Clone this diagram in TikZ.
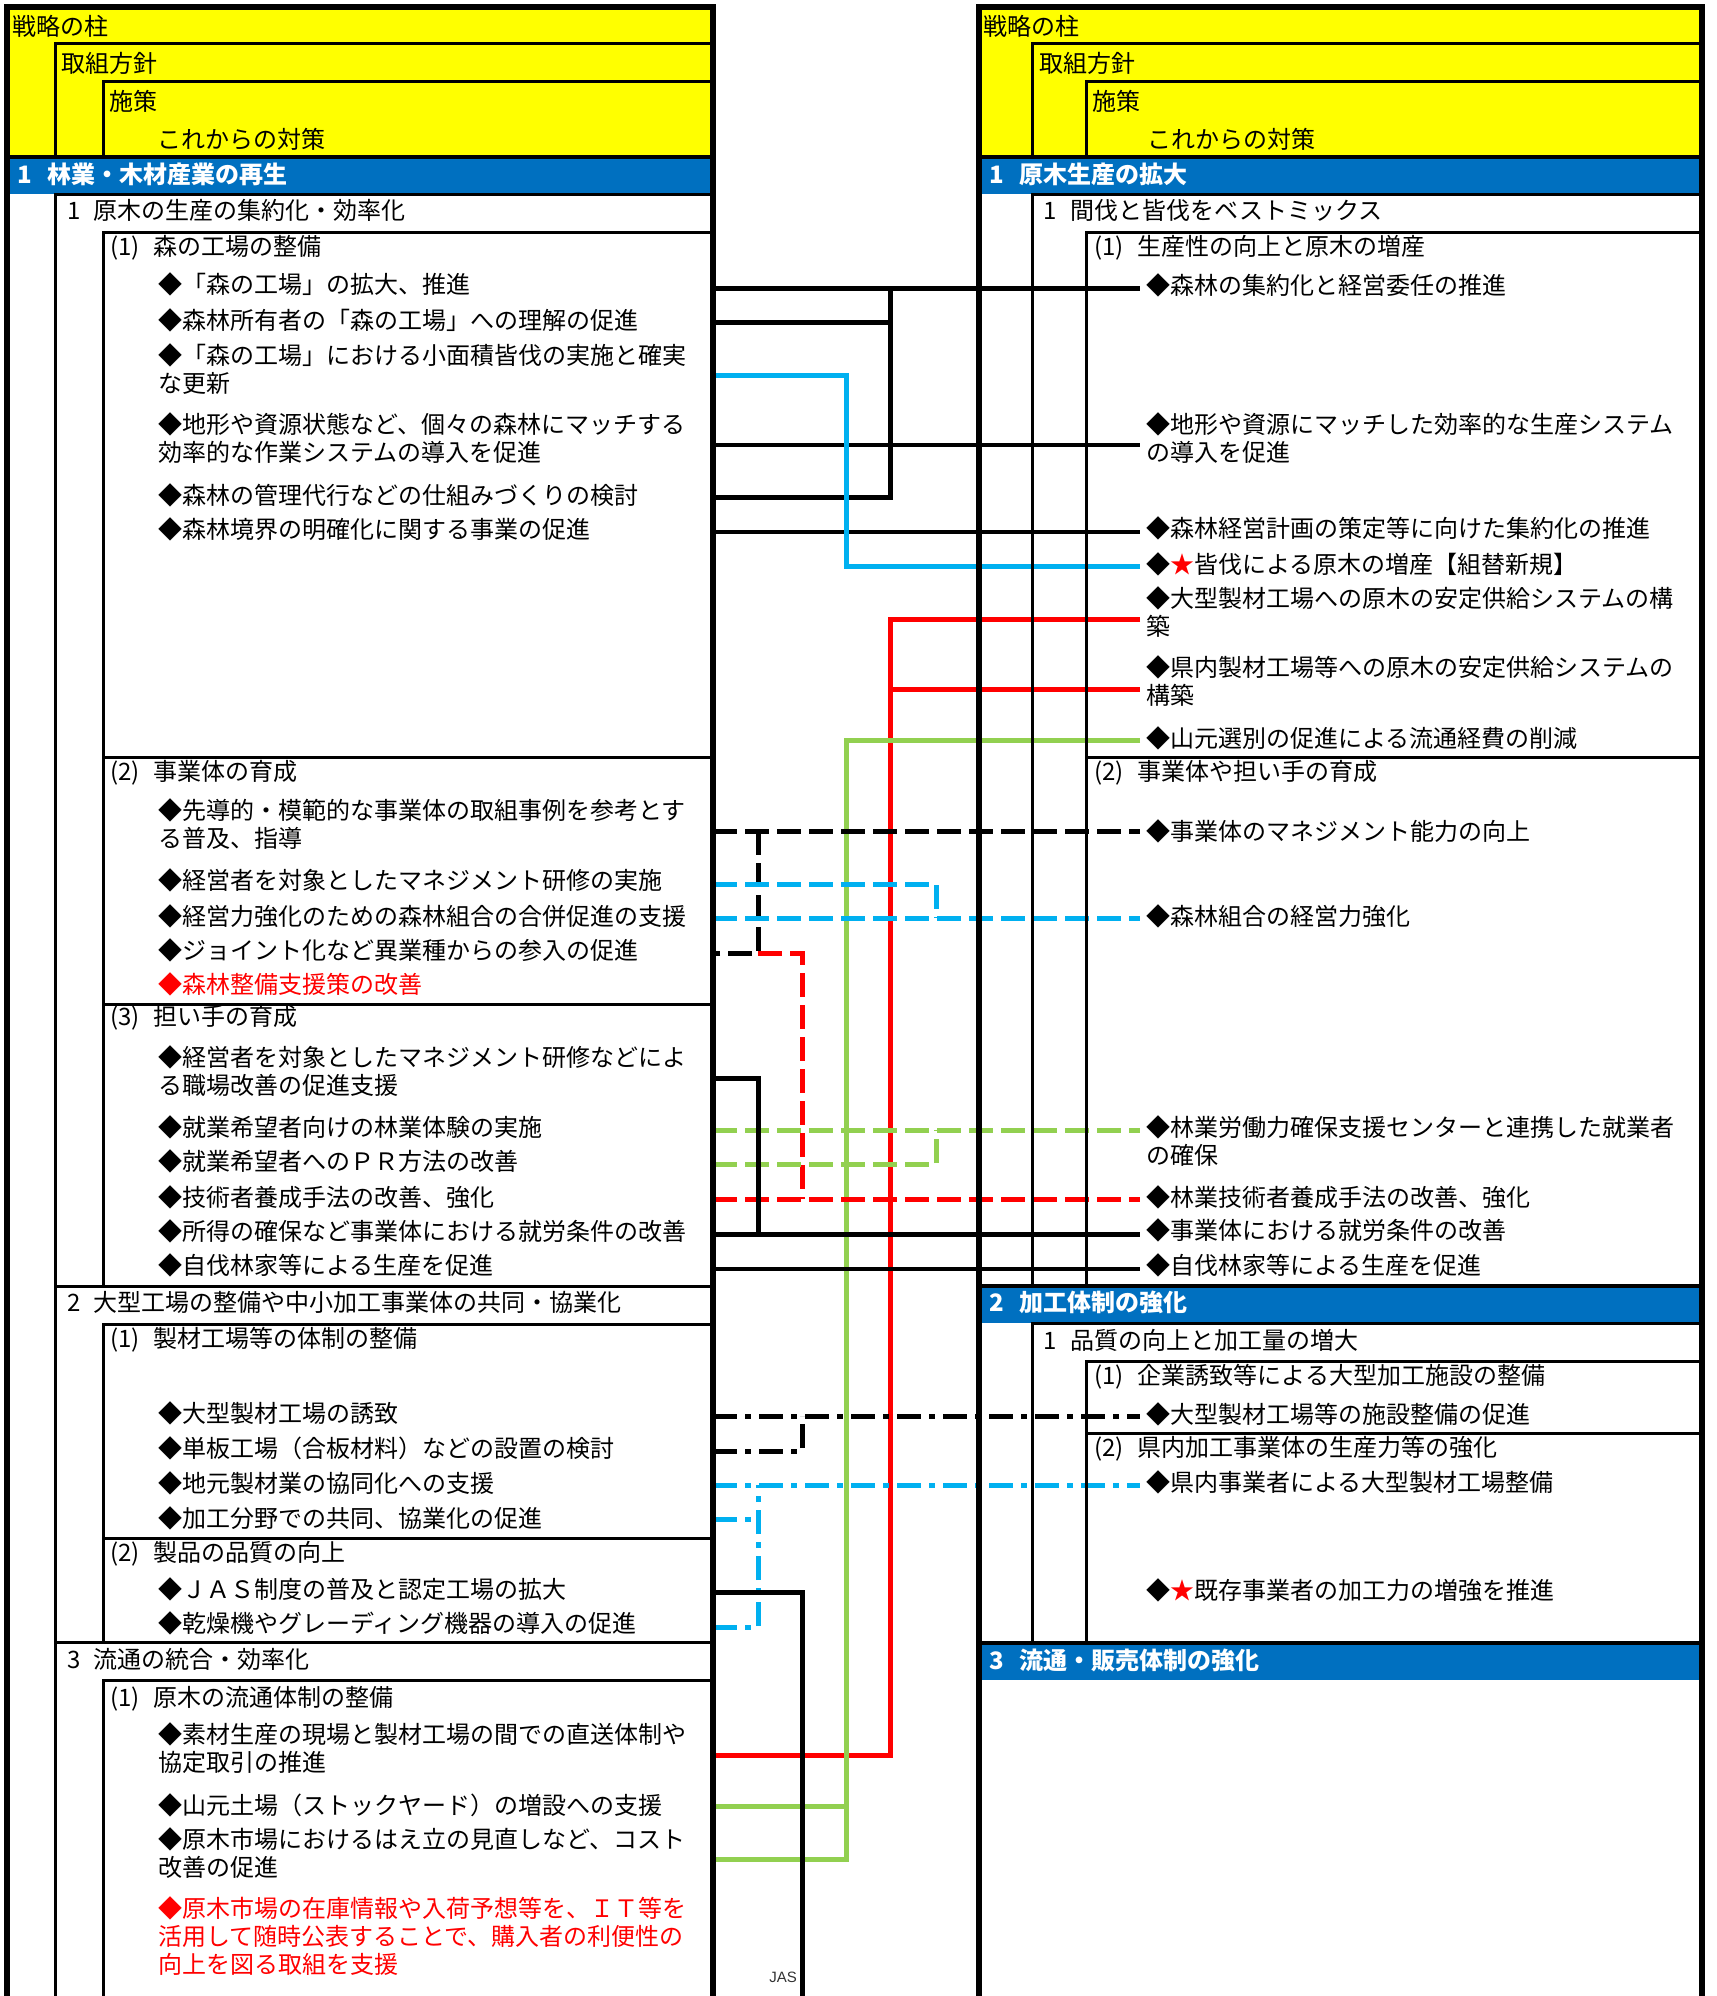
\documentclass[tikz,border=0pt]{standalone}
\usepackage{fontspec}
\setmainfont{Noto Sans CJK JP}
\newfontfamily\jasfont{Liberation Sans}
\definecolor{hdyellow}{RGB}{255,255,0}
\definecolor{hdblue}{RGB}{0,112,192}
\definecolor{lkcyan}{RGB}{0,176,240}
\definecolor{lkgreen}{RGB}{146,208,80}
\definecolor{lkred}{RGB}{255,0,0}
\begin{document}
\begin{tikzpicture}[x=1pt,y=-1pt]

\tikzstyle{it} = [anchor=west, inner sep=0pt, align=left, font=\fontsize{24}{28}\selectfont]
\tikzstyle{rt} = [it, inner xsep=6pt]
\tikzstyle{bt} = [it, text=white, font=\fontsize{24}{28}\selectfont\bfseries]
\tikzstyle{fr} = [line width=5.5pt, line join=miter]
\tikzstyle{hl} = [line width=4.5pt]
\tikzstyle{bx} = [line width=3pt, line join=miter]
\tikzstyle{ln} = [line width=5pt, line join=miter]
\tikzstyle{tn} = [line width=3.3pt]
\tikzstyle{dsh} = [ln, dash pattern=on 24pt off 8pt]
\tikzstyle{dd} = [ln, dash pattern=on 24pt off 8pt on 6pt off 8pt]

\useasboundingbox (0,0) rectangle (1716,1996);

\fill[hdyellow] (7,7) rectangle (713,157);
\fill[hdyellow] (979,7) rectangle (1702,157);
\fill[hdblue] (7,157) rectangle (713,194);
\fill[hdblue] (979,157) rectangle (1702,194);
\fill[hdblue] (979,1286) rectangle (1702,1323);
\fill[hdblue] (979,1643) rectangle (1702,1680);

% left side
\node[it] (lh1) at (12,26) {戦略の柱};
\node[it] (lh2) at (61,63) {取組方針};
\node[it] (lh3) at (109,101) {施策};
\node[it] (lh4) at (157,139) {これからの対策};
\node[bt] (ls1) at (17,174) {1\hspace{16pt}林業・木材産業の再生};
\node[it] (lp1) at (67,210) {1\hspace{13pt}原木の生産の集約化・効率化};
\node[it] (lm1) at (110,248) {(1)\hspace{14pt}森の工場の整備};
\node[it] (lA1) at (158,284) {◆「森の工場」の拡大、推進};
\node[it] (lA2) at (158,320) {◆森林所有者の「森の工場」への理解の促進};
\node[it] (lA3) at (158,369) {◆「森の工場」における小面積皆伐の実施と確実\\な更新};
\node[it] (lA4) at (158,438) {◆地形や資源状態など、個々の森林にマッチする\\効率的な作業システムの導入を促進};
\node[it] (lA5) at (158,495) {◆森林の管理代行などの仕組みづくりの検討};
\node[it] (lA6) at (158,529) {◆森林境界の明確化に関する事業の促進};
\node[it] (lm2) at (110,773) {(2)\hspace{14pt}事業体の育成};
\node[it] (lB1) at (158,824) {◆先導的・模範的な事業体の取組事例を参考とす\\る普及、指導};
\node[it] (lB2) at (158,880) {◆経営者を対象としたマネジメント研修の実施};
\node[it] (lB3) at (158,916) {◆経営力強化のための森林組合の合併促進の支援};
\node[it] (lB4) at (158,950) {◆ジョイント化など異業種からの参入の促進};
\node[it, text=lkred] (lB5) at (158,984) {◆森林整備支援策の改善};
\node[it] (lm3) at (110,1018) {(3)\hspace{14pt}担い手の育成};
\node[it] (lC1) at (158,1071) {◆経営者を対象としたマネジメント研修などによ\\る職場改善の促進支援};
\node[it] (lC2) at (158,1127) {◆就業希望者向けの林業体験の実施};
\node[it] (lC3) at (158,1161) {◆就業希望者へのＰＲ方法の改善};
\node[it] (lC4) at (158,1197) {◆技術者養成手法の改善、強化};
\node[it] (lC5) at (158,1231) {◆所得の確保など事業体における就労条件の改善};
\node[it] (lC6) at (158,1265) {◆自伐林家等による生産を促進};
\node[it] (lp2) at (67,1302) {2\hspace{13pt}大型工場の整備や中小加工事業体の共同・協業化};
\node[it] (lm4) at (110,1340) {(1)\hspace{14pt}製材工場等の体制の整備};
\node[it] (lD1) at (158,1413) {◆大型製材工場の誘致};
\node[it] (lD2) at (158,1448) {◆単板工場（合板材料）などの設置の検討};
\node[it] (lD3) at (158,1483) {◆地元製材業の協同化への支援};
\node[it] (lD4) at (158,1518) {◆加工分野での共同、協業化の促進};
\node[it] (lm5) at (110,1554) {(2)\hspace{14pt}製品の品質の向上};
\node[it] (lE1) at (158,1589) {◆ＪＡＳ制度の普及と認定工場の拡大};
\node[it] (lE2) at (158,1623) {◆乾燥機やグレーディング機器の導入の促進};
\node[it] (lp3) at (67,1659) {3\hspace{13pt}流通の統合・効率化};
\node[it] (lm6) at (110,1699) {(1)\hspace{14pt}原木の流通体制の整備};
\node[it] (lF1) at (158,1748) {◆素材生産の現場と製材工場の間での直送体制や\\協定取引の推進};
\node[it] (lF2) at (158,1805) {◆山元土場（ストックヤード）の増設への支援};
\node[it] (lF3) at (158,1853) {◆原木市場におけるはえ立の見直しなど、コスト\\改善の促進};
\node[it, text=lkred] (lF4) at (158,1936) {◆原木市場の在庫情報や入荷予想等を、ＩＴ等を\\活用して随時公表することで、購入者の利便性の\\向上を図る取組を支援};

% right side
\node[it] (rh1) at (983,26) {戦略の柱};
\node[it] (rh2) at (1039,63) {取組方針};
\node[it] (rh3) at (1092,101) {施策};
\node[it] (rh4) at (1147,139) {これからの対策};
\node[bt] (rs1) at (989,174) {1\hspace{16pt}原木生産の拡大};
\node[it] (rp1) at (1043,210) {1\hspace{14pt}間伐と皆伐をベストミックス};
\node[it] (rm1) at (1094,248) {(1)\hspace{14pt}生産性の向上と原木の増産};
\node[rt] (rA1) at (1140,285) {◆森林の集約化と経営委任の推進};
\node[rt] (rA2) at (1140,438) {◆地形や資源にマッチした効率的な生産システム\\の導入を促進};
\node[rt] (rA3) at (1140,528) {◆森林経営計画の策定等に向けた集約化の推進};
\node[rt] (rA4) at (1140,564) {◆{\color{lkred}★}皆伐による原木の増産【組替新規】};
\node[rt] (rA5) at (1140,612) {◆大型製材工場への原木の安定供給システムの構\\築};
\node[rt] (rA6) at (1140,681) {◆県内製材工場等への原木の安定供給システムの\\構築};
\node[rt] (rA7) at (1140,738) {◆山元選別の促進による流通経費の削減};
\node[it] (rm2) at (1094,773) {(2)\hspace{14pt}事業体や担い手の育成};
\node[rt] (rB1) at (1140,831) {◆事業体のマネジメント能力の向上};
\node[rt] (rB2) at (1140,916) {◆森林組合の経営力強化};
\node[rt] (rB3) at (1140,1141) {◆林業労働力確保支援センターと連携した就業者\\の確保};
\node[rt] (rB4) at (1140,1197) {◆林業技術者養成手法の改善、強化};
\node[rt] (rB5) at (1140,1230) {◆事業体における就労条件の改善};
\node[rt] (rB6) at (1140,1265) {◆自伐林家等による生産を促進};
\node[bt] (rs2) at (989,1302) {2\hspace{16pt}加工体制の強化};
\node[it] (rp2) at (1043,1340) {1\hspace{14pt}品質の向上と加工量の増大};
\node[it] (rm3) at (1094,1377) {(1)\hspace{14pt}企業誘致等による大型加工施設の整備};
\node[rt] (rC1) at (1140,1414) {◆大型製材工場等の施設整備の促進};
\node[it] (rm4) at (1094,1449) {(2)\hspace{14pt}県内加工事業体の生産力等の強化};
\node[rt] (rD1) at (1140,1482) {◆県内事業者による大型製材工場整備};
\node[rt] (rD2) at (1140,1590) {◆{\color{lkred}★}既存事業者の加工力の増強を推進};
\node[bt] (rs3) at (989,1660) {3\hspace{16pt}流通・販売体制の強化};

% links
\coordinate (pA1) at (713,288);
\coordinate (pA2) at (713,322);
\coordinate (pA3) at (713,375);
\coordinate (pA4) at (713,445);
\coordinate (pA5) at (713,497);
\coordinate (pA6) at (713,532);
\coordinate (kA1) at (890,288);
\coordinate (kA2) at (846,566);
\coordinate (kA3) at (890,619);
\coordinate (kA4) at (890,689);
\coordinate (kA5) at (846,740);
\coordinate (pB1) at (713,831);
\coordinate (pB2) at (713,884);
\coordinate (pB3) at (713,918);
\coordinate (pB4) at (713,953);
\coordinate (kB1) at (758,831);
\coordinate (kB2) at (758,953);
\coordinate (kB3) at (936,918);
\coordinate (pC1) at (713,1078);
\coordinate (pC2) at (713,1130);
\coordinate (pC3) at (713,1164);
\coordinate (pC4) at (713,1199);
\coordinate (pC5) at (713,1234);
\coordinate (pC6) at (713,1269);
\coordinate (kC1) at (936,1130);
\coordinate (kC2) at (802,1199);
\coordinate (kC3) at (758,1234);
\coordinate (pD1) at (713,1416);
\coordinate (pD2) at (713,1451);
\coordinate (pD3) at (713,1485);
\coordinate (pD4) at (713,1519);
\coordinate (kD1) at (802,1416);
\coordinate (kD2) at (758,1485);
\coordinate (pE1) at (713,1592);
\coordinate (pE2) at (713,1627);
\coordinate (kE1) at (802,1996);
\coordinate (pF1) at (713,1755);
\coordinate (pF2) at (713,1806);
\coordinate (pF3) at (713,1859);

\draw[ln] (pA1) -- (pA1 -| rA1.west);
\draw[ln] (pA2) -- (pA2 -| kA1);
\draw[ln] (pA5) -| (kA1);
\draw[tn] (pA4) -- (pA4 -| rA2.west);
\draw[tn] (pA6) -- (pA6 -| rA3.west);
\draw[ln, lkcyan] (pA3) -| (kA2) -- (kA2 -| rA4.west);
\draw[ln, lkred] (kA3 -| rA5.west) -- (kA3) |- (pF1);
\draw[ln, lkred] (kA4) -- (kA4 -| rA6.west);
\draw[ln, lkgreen] (kA5 -| rA7.west) -- (kA5) |- (pF3);
\draw[ln, lkgreen] (pF2) -- (pF2 -| kA5);

\draw[dsh] (pB1) -- (pB1 -| rB1.west);
\draw[dsh] (kB1) |- (pB4);
\draw[dsh, lkred] (kB2) -| (kC2);
\draw[dsh, lkred] (pC4) -- (pC4 -| rB4.west);
\draw[dsh, lkcyan] (pB2) -| (kB3);
\draw[dsh, lkcyan] (pB3) -- (pB3 -| rB2.west);
\draw[dsh, lkgreen] (pC2) -- (pC2 -| rB3.west);
\draw[dsh, lkgreen] (pC3) -| (kC1);
\draw[ln] (pC1) -| (kC3);
\draw[ln] (pC5) -- (pC5 -| rB5.west);
\draw[tn] (pC6) -- (pC6 -| rB6.west);

\draw[dd] (pD1) -- (pD1 -| rC1.west);
\draw[dd] (pD2) -| (kD1);
\draw[dd, lkcyan] (pD3) -- (pD3 -| rD1.west);
\draw[dd, lkcyan] (pE2) -| (kD2);
\draw[dd, lkcyan] (pD4) -- (pD4 -| kD2);
\draw[ln] (pE1) -| (kE1);
\node[anchor=east, inner sep=0pt, text=black!80, font=\jasfont\fontsize{15}{15}\selectfont] (jas) at (797,1977) {JAS};

% frames
\draw[fr] (7,1996) -- (7,7) -- (713,7) -- (713,1996);
\draw[bx] (55,157) -- (55,44) -- (713,44);
\draw[bx] (103,157) -- (103,82) -- (713,82);
\draw[hl] (7,157) -- (713,157);
\draw[bx] (713,195) -- (55,195) -- (55,1996);
\draw[bx] (713,232) -- (103,232) -- (103,1286);
\draw[bx] (103,757) -- (713,757);
\draw[bx] (103,1004) -- (713,1004);
\draw[bx] (55,1286) -- (713,1286);
\draw[bx] (713,1324) -- (103,1324) -- (103,1642);
\draw[bx] (103,1538) -- (713,1538);
\draw[bx] (55,1642) -- (713,1642);
\draw[bx] (713,1680) -- (103,1680) -- (103,1996);

\draw[fr] (979,1996) -- (979,7) -- (1702,7) -- (1702,1996);
\draw[bx] (1032,157) -- (1032,44) -- (1702,44);
\draw[bx] (1086,157) -- (1086,82) -- (1702,82);
\draw[hl] (979,157) -- (1702,157);
\draw[bx] (1702,195) -- (1032,195) -- (1032,1286);
\draw[bx] (1702,232) -- (1086,232) -- (1086,1286);
\draw[bx] (1086,757) -- (1702,757);
\draw[hl] (979,1286) -- (1702,1286);
\draw[bx] (1702,1323) -- (1032,1323) -- (1032,1643);
\draw[bx] (1702,1361) -- (1086,1361) -- (1086,1643);
\draw[bx] (1086,1433) -- (1702,1433);
\draw[hl] (979,1643) -- (1702,1643);
\end{tikzpicture}
\end{document}
